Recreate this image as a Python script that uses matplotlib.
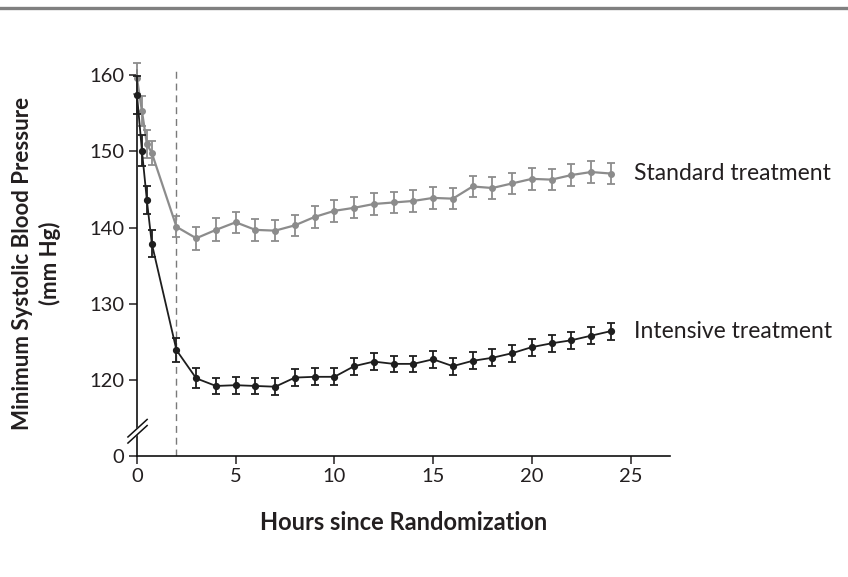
import numpy as np
import matplotlib
matplotlib.use("Agg")
import matplotlib.pyplot as plt
from matplotlib.lines import Line2D
from matplotlib import transforms

plt.rcParams['font.family'] = ['Lato', 'DejaVu Sans']

# hours since randomization
hours = [0, 0.25, 0.5, 0.75, 2, 3, 4, 5, 6, 7, 8, 9, 10, 11, 12, 13, 14, 15,
         16, 17, 18, 19, 20, 21, 22, 23, 24]

standard = [159.6, 155.3, 151.0, 149.8, 140.1, 138.6, 139.7, 140.7, 139.7, 139.6,
            140.3, 141.4, 142.2, 142.6, 143.1, 143.3, 143.5, 143.9, 143.8, 145.4,
            145.2, 145.8, 146.4, 146.3, 146.9, 147.3, 147.1]
standard_err = [2.0, 2.0, 1.8, 1.6, 1.4, 1.5, 1.5, 1.4, 1.4, 1.4, 1.4, 1.4, 1.4, 1.4,
                1.4, 1.4, 1.4, 1.4, 1.4, 1.4, 1.4, 1.4, 1.4, 1.4, 1.4, 1.4, 1.4]

intensive = [157.4, 150.1, 143.6, 137.9, 123.9, 120.2, 119.2, 119.3, 119.2, 119.1,
             120.3, 120.4, 120.4, 121.8, 122.4, 122.1, 122.1, 122.7, 121.8, 122.5,
             122.9, 123.5, 124.3, 124.8, 125.2, 125.8, 126.4]
intensive_err = [2.5, 2.0, 1.8, 1.8, 1.6, 1.3, 1.1, 1.1, 1.1, 1.1, 1.1, 1.1, 1.1, 1.1,
                 1.1, 1.1, 1.1, 1.1, 1.1, 1.1, 1.1, 1.1, 1.1, 1.1, 1.1, 1.1, 1.1]

# the axis is broken below 120; "0" sits at 110 on the drawn scale
y_ticks = [110, 120, 130, 140, 150, 160]
y_tick_labels = ['0', '120', '130', '140', '150', '160']
x_ticks = [0, 5, 10, 15, 20, 25]

grey = '#8c8c8c'
dark = '#1e1e1e'
text_col = '#231f20'

fig = plt.figure(figsize=(8.48, 5.77), dpi=100)
ax = fig.add_axes([137/848, 1 - 456/577, (670-137)/848, (456-70)/577])

ax.axvline(2, color='#7a7a7a', lw=1.0, ls=(0, (5, 3.5)), zorder=1)

ax.errorbar(hours, standard, yerr=standard_err, color=grey, ecolor=grey,
            lw=1.6, elinewidth=1.3, capsize=3.2, capthick=1.3,
            marker='o', ms=4, clip_on=False, zorder=3)
ax.errorbar(hours, intensive, yerr=intensive_err, color=dark, ecolor=dark,
            lw=1.3, elinewidth=1.3, capsize=3.2, capthick=1.3,
            marker='o', ms=4.2, clip_on=False, zorder=4)

ax.annotate('Standard treatment', xy=(hours[-1], standard[-1]),
            xytext=(17, 0), textcoords='offset points', va='center', ha='left',
            fontsize=16.5, color=text_col)
ax.annotate('Intensive treatment', xy=(hours[-1], intensive[-1]),
            xytext=(17, 0), textcoords='offset points', va='center', ha='left',
            fontsize=16.5, color=text_col)

ax.set_xlim(0, 27)
ax.set_ylim(110, 160.7)
ax.set_xticks(x_ticks)
ax.set_yticks(y_ticks)
ax.set_yticklabels(y_tick_labels)
ax.tick_params(direction='out', length=6, width=1.1, labelsize=14.5,
               colors=text_col, pad=3)

for s in ['top', 'right']:
    ax.spines[s].set_visible(False)
for s in ['left', 'bottom']:
    ax.spines[s].set_linewidth(1.2)
    ax.spines[s].set_color('#111111')

# axis break marks
tr = transforms.blended_transform_factory(ax.transAxes, ax.transData)
ax.fill([-0.017, 0.019, 0.019, -0.017], [111.7, 114.0, 114.8, 112.5],
        color='white', transform=tr, clip_on=False, zorder=5)
for y0 in [111.7, 112.5]:
    ax.plot([-0.017, 0.019], [y0, y0 + 2.3], color='#111111', lw=1.1,
            transform=tr, clip_on=False, zorder=6)

ax.set_xlabel('Hours since Randomization', fontsize=17, fontweight='bold',
              color=text_col)
ax.xaxis.set_label_coords(0.5, -(511 - 456) / 386)
ax.set_ylabel('Minimum Systolic Blood Pressure\n(mm Hg)', fontsize=16,
              fontweight='bold', color=text_col, linespacing=1.35)
ax.yaxis.set_label_coords(-(137 - 61) / 533, 0.5)

# rule across the top of the figure
fig.add_artist(Line2D([0, 1], [1 - 7.5/577, 1 - 7.5/577], color='#808080', lw=2.4,
                      transform=fig.transFigure))

fig.savefig('out.png', dpi=100)
